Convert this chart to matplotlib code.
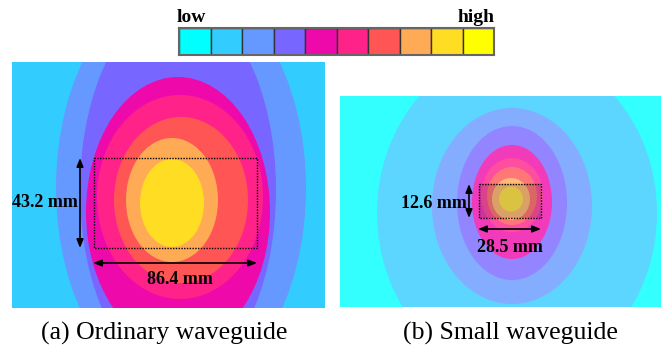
import matplotlib
matplotlib.use("Agg")
import matplotlib.pyplot as plt
from matplotlib.patches import Ellipse, Rectangle
import matplotlib.colors as mcolors

# ---------------- data ----------------
scale_colors = ["#00FFFF", "#33CCFF", "#6699FF", "#7766FF", "#EE0AAA",
                "#FF2288", "#FF5555", "#FFAA55", "#FFDD22", "#FFFF00"]
scale_labels = ["low", "high"]

# panel (a): ordinary waveguide, contour levels (index into scale) and ellipse shapes
a_background_level = 1
a_levels = [2, 3, 4, 5, 6, 7, 8]
a_cx = [181, 178, 178, 180, 181, 172, 172]
a_cy = [188, 190, 212, 197, 200, 200, 203]
a_hw = [125, 98, 92, 83, 67, 46, 32]
a_hh = [205, 188, 135, 102, 83, 62, 44]
a_guide = (94, 158, 257, 248)          # x0, y0, x1, y1
a_width_label = "86.4 mm"
a_height_label = "43.2 mm"

# panel (b): small waveguide
b_background_level = 0
b_levels = [1, 2, 3, 4, 5, 6, 7, 8]
b_cx = [517, 512, 512, 512, 512, 512, 511, 511]
b_cy = [213, 206, 203, 202, 195, 196, 199, 199]
b_hw = [140, 80, 55, 40, 31, 25, 19, 12]
b_hh = [163, 98, 77, 57, 37, 29, 21, 12.5]
b_guide = (479, 184, 541, 218)
b_width_label = "28.5 mm"
b_height_label = "12.6 mm"

captions = ["(a) Ordinary waveguide", "(b) Small waveguide"]

# ---------------- figure ----------------
W, H = 661, 349
fig = plt.figure(figsize=(W / 100, H / 100), dpi=100)
fig.patch.set_facecolor("white")

SERIF = ["Liberation Serif", "DejaVu Serif"]


def ax_at(x0, y0, x1, y1):
    ax = fig.add_axes([x0 / W, 1 - y1 / H, (x1 - x0) / W, (y1 - y0) / H])
    return ax


def lighten(c, f):
    r, g, b = mcolors.to_rgb(c)
    return (r * (1 - f) + f, g * (1 - f) + f, b * (1 - f) + f)


# colour scale bar
cax = ax_at(179, 28, 494, 55)
cax.bar(range(len(scale_colors)), [1] * len(scale_colors), width=1.0,
        color=scale_colors, edgecolor="#333333", linewidth=1.0)
cax.set_xlim(-0.5, len(scale_colors) - 0.5)
cax.set_ylim(0, 1)
cax.set_xticks([])
cax.set_yticks([])
for s in cax.spines.values():
    s.set_color("#666666")
    s.set_linewidth(1.5)
fig.text(177 / W, 1 - 18 / H, scale_labels[0], ha="left", va="center",
         fontsize=14, fontweight="bold", family=SERIF)
fig.text(495 / W, 1 - 18 / H, scale_labels[1], ha="right", va="center",
         fontsize=14, fontweight="bold", family=SERIF)


def panel(box, bg_level, levels, cx, cy, hw, hh, guide, wl, hl, fade, shade,
          varrow_x, harrow_y, hl_xy, wl_xy):
    x0, y0, x1, y1 = box
    ax = ax_at(x0, y0, x1, y1)
    ax.set_xlim(x0, x1)
    ax.set_ylim(y1, y0)
    ax.set_facecolor(lighten(scale_colors[bg_level], fade))
    ax.axis("off")
    ax.add_patch(Rectangle((x0, y0), x1 - x0, y1 - y0,
                           facecolor=lighten(scale_colors[bg_level], fade),
                           edgecolor="none", zorder=0))
    for lv, x, y, w, h in zip(levels, cx, cy, hw, hh):
        ax.add_patch(Ellipse((x, y), 2 * w, 2 * h,
                             facecolor=lighten(scale_colors[lv], fade),
                             edgecolor="none", zorder=1))
    gx0, gy0, gx1, gy1 = guide
    if shade:
        ax.add_patch(Rectangle((gx0, gy0), gx1 - gx0, gy1 - gy0,
                               facecolor="black", alpha=shade,
                               edgecolor="none", zorder=2))
    ax.add_patch(Rectangle((gx0, gy0), gx1 - gx0, gy1 - gy0,
                           facecolor="none", edgecolor="black",
                           linewidth=1.0, linestyle=(0, (1, 1)), zorder=3))
    aprops = dict(arrowstyle="<|-|>,head_length=0.5,head_width=0.2",
                  color="black", lw=1.2, shrinkA=0, shrinkB=0)
    ax.annotate("", xy=(varrow_x, gy0), xytext=(varrow_x, gy1),
                arrowprops=aprops, zorder=4)
    ax.annotate("", xy=(gx0 - 1, harrow_y), xytext=(gx1, harrow_y),
                arrowprops=aprops, zorder=4)
    ax.text(hl_xy[0], hl_xy[1], hl, ha="right", va="center", fontsize=13,
            fontweight="bold", family=SERIF, zorder=5)
    ax.text(wl_xy[0], wl_xy[1], wl, ha="center", va="center", fontsize=13,
            fontweight="bold", family=SERIF, zorder=5)
    return ax


panel((12, 62, 325, 308), a_background_level, a_levels, a_cx, a_cy, a_hw, a_hh,
      a_guide, a_width_label, a_height_label, 0.0, 0.0,
      80, 263, (78, 203), (180, 280))
panel((340, 96, 661, 307), b_background_level, b_levels, b_cx, b_cy, b_hw, b_hh,
      b_guide, b_width_label, b_height_label, 0.2, 0.14,
      469, 229, (467, 203), (510, 247))

fig.text(164 / W, 1 - 333 / H, captions[0], ha="center", va="center",
         fontsize=18.5, family=SERIF)
fig.text(510 / W, 1 - 333 / H, captions[1], ha="center", va="center",
         fontsize=18.5, family=SERIF)

fig.savefig("out.png", dpi=100)
